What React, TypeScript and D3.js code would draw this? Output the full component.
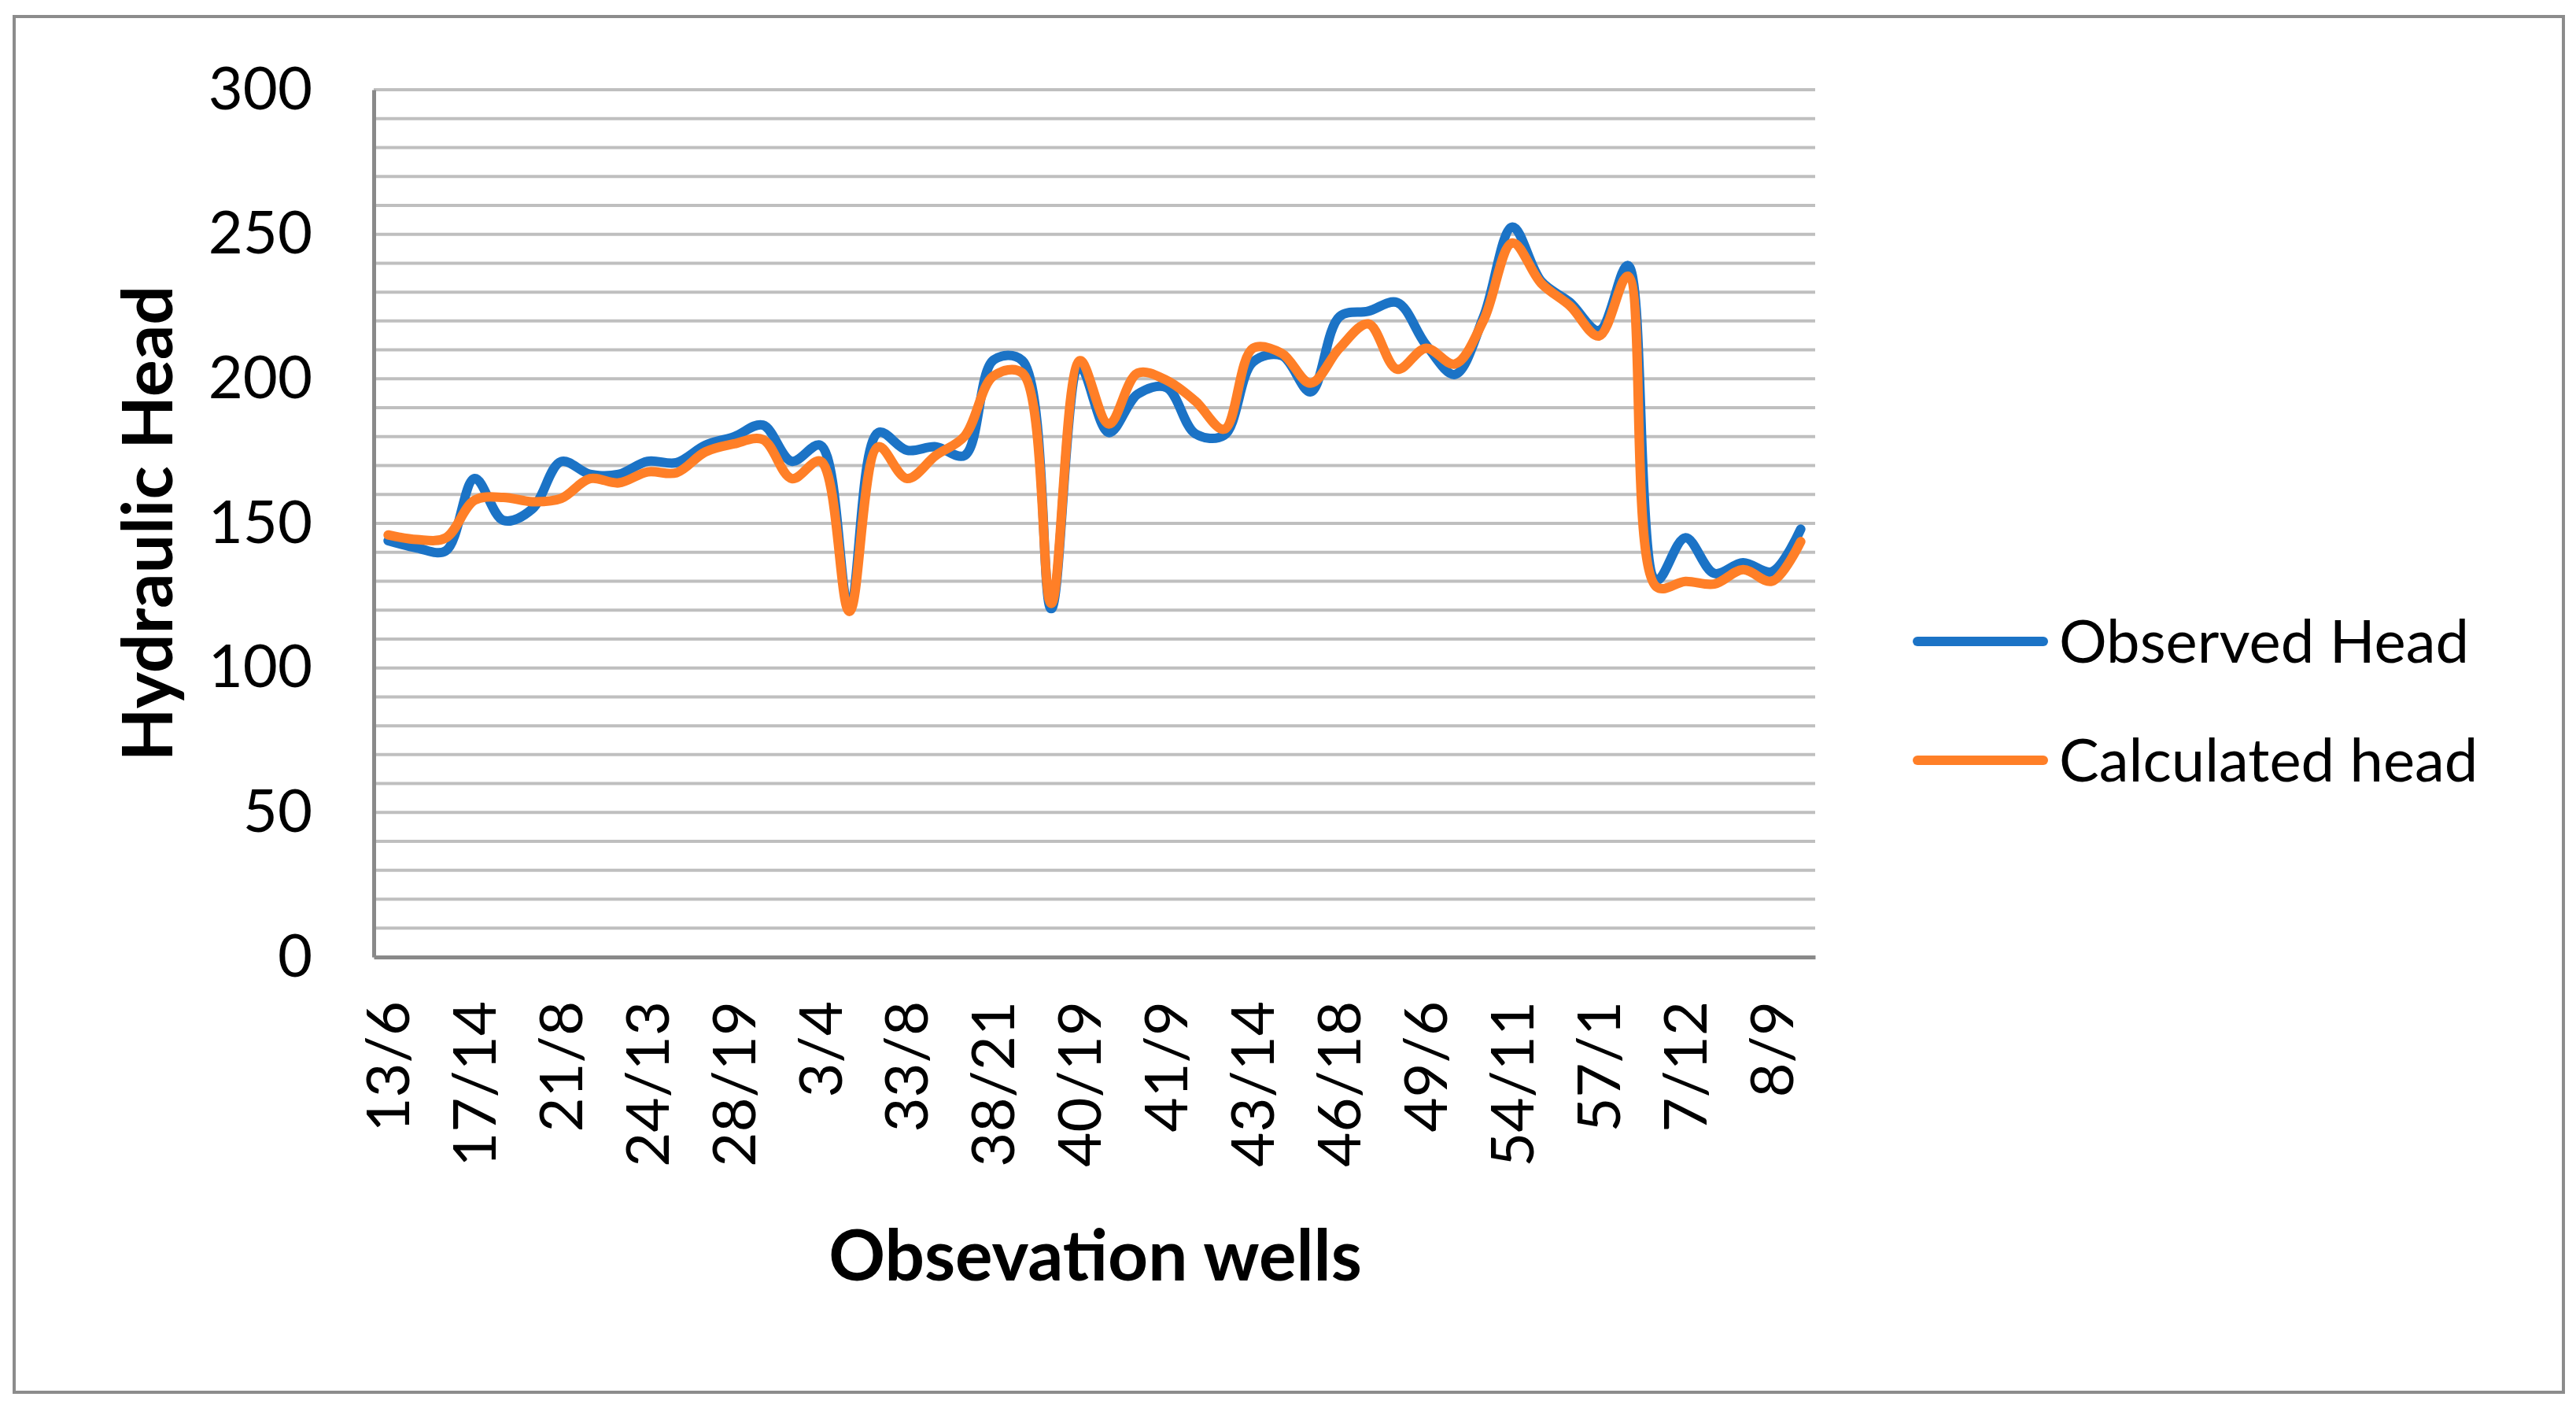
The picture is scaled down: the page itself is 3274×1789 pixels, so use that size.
import { useRef, useEffect } from 'react';
import * as d3 from 'd3';

// Labels Excel shows on the category axis (every 3rd well)
const WELL_LABELS = [
  '13/6', '17/14', '21/8', '24/13', '28/19', '3/4', '33/8', '38/21', '40/19',
  '41/9', '43/14', '46/18', '49/6', '54/11', '57/1', '7/12', '8/9',
];
const LABEL_EVERY = 3;

const OBSERVED_HEAD = [
  144, 141.5, 140.5, 165.5, 151, 155, 171.4, 167, 167, 171.5,
  171, 177, 180, 184, 171.5, 177, 120.5, 181.4, 175.3, 176.5,
  173.5, 206.5, 206.3, 120.5, 204, 181.4, 194.7, 197, 181, 180.5,
  205.8, 208, 195.5, 221.5, 223.4, 226.4, 211.8, 201.5, 221.5, 252.5,
  233.7, 226.4, 216.7, 239.2, 130.4, 145, 132.7, 136.4, 133.3, 148,
];
const CALCULATED_HEAD = [
  146, 144.4, 145, 158, 159, 157.5, 158.6, 165.5, 164, 167.8,
  167.5, 174.7, 177.5, 179, 165.5, 171.5, 119.5, 176.5, 165.5, 173.5,
  180.2, 201, 202, 122.3, 206.3, 184.4, 202, 199.5, 192.3, 182.6,
  210.6, 208.8, 198.5, 210.6, 219, 203.3, 210.6, 205.1, 220.3, 247,
  233, 225.2, 214.8, 235.5, 128, 129.9, 129, 134, 130, 143.7,
];
const SERIES_NAMES = ['Observed Head', 'Calculated head'];
const Y_TICKS = [0, 50, 100, 150, 200, 250, 300];

const COLORS = ['#1b73c6', '#ff7f27'];
const FONT = "Lato, 'Open Sans', sans-serif";
const W = 3274;
const H = 1789;
const PLOT = { left: 475, right: 2307, top: 114, bottom: 1216 };

export default function App() {
  const svgRef = useRef<SVGSVGElement>(null);

  useEffect(() => {
    if (!svgRef.current) return;
    const svg = d3.select(svgRef.current);
    svg.selectAll('*').remove();

    svg.append('rect').attr('width', W).attr('height', H).attr('fill', '#fff');

    // chart border
    svg.append('rect')
      .attr('x', 18)
      .attr('y', 21)
      .attr('width', 3240)
      .attr('height', 1748)
      .attr('fill', 'none')
      .attr('stroke', '#8c8c8c')
      .attr('stroke-width', 4);

    const n = OBSERVED_HEAD.length;
    const x = d3.scaleBand<number>()
      .domain(d3.range(n))
      .range([PLOT.left, PLOT.right]);
    const y = d3.scaleLinear()
      .domain([0, 300])
      .range([PLOT.bottom, PLOT.top]);
    const cx = (i: number) => (x(i) ?? 0) + x.bandwidth() / 2;

    // minor gridlines every 10
    svg.append('g')
      .selectAll('line')
      .data(d3.range(10, 301, 10))
      .join('line')
      .attr('x1', PLOT.left)
      .attr('x2', PLOT.right)
      .attr('y1', d => y(d))
      .attr('y2', d => y(d))
      .attr('stroke', '#bfbfbf')
      .attr('stroke-width', 4);

    // y axis
    const yAxis = svg.append('g')
      .attr('transform', `translate(${PLOT.left},0)`)
      .call(d3.axisLeft(y).tickValues(Y_TICKS).tickSize(0).tickSizeOuter(0).tickPadding(78));
    yAxis.select('.domain').attr('stroke', '#898989').attr('stroke-width', 5);
    yAxis.selectAll('text')
      .attr('font-family', FONT)
      .attr('font-size', 76)
      .attr('fill', '#000');

    // x axis
    const xAxis = svg.append('g')
      .attr('transform', `translate(0,${PLOT.bottom})`)
      .call(
        d3.axisBottom(x)
          .tickValues(d3.range(0, n, LABEL_EVERY))
          .tickFormat(i => WELL_LABELS[(i as number) / LABEL_EVERY] ?? '')
          .tickSize(0)
          .tickSizeOuter(0)
      );
    xAxis.select('.domain').attr('stroke', '#898989').attr('stroke-width', 5);
    xAxis.selectAll('text')
      .attr('transform', 'rotate(-90)')
      .attr('text-anchor', 'end')
      .attr('x', -56)
      .attr('y', 0)
      .attr('dy', '0.35em')
      .attr('font-family', FONT)
      .attr('font-size', 76)
      .attr('fill', '#000');

    // smoothed lines (centripetal spline keeps the steep drops from overshooting)
    const line = d3.line<number>()
      .x((_, i) => cx(i))
      .y(d => y(d))
      .curve(d3.curveCatmullRom.alpha(0.5));

    [OBSERVED_HEAD, CALCULATED_HEAD].forEach((values, k) => {
      svg.append('path')
        .datum(values)
        .attr('d', line)
        .attr('fill', 'none')
        .attr('stroke', COLORS[k])
        .attr('stroke-width', 12)
        .attr('stroke-linejoin', 'round')
        .attr('stroke-linecap', 'round');
    });

    // legend
    const legendY = [815, 966];
    SERIES_NAMES.forEach((name, k) => {
      svg.append('line')
        .attr('x1', 2437)
        .attr('x2', 2597)
        .attr('y1', legendY[k])
        .attr('y2', legendY[k])
        .attr('stroke', COLORS[k])
        .attr('stroke-width', 12)
        .attr('stroke-linecap', 'round');
      svg.append('text')
        .attr('x', 2617)
        .attr('y', legendY[k])
        .attr('dy', '0.35em')
        .attr('font-family', FONT)
        .attr('font-size', 76)
        .attr('fill', '#000')
        .text(name);
    });

    // axis titles
    svg.append('text')
      .attr('x', 1392)
      .attr('y', 1627)
      .attr('text-anchor', 'middle')
      .attr('font-family', FONT)
      .attr('font-weight', 'bold')
      .attr('font-size', 89)
      .attr('fill', '#000')
      .text('Obsevation wells');

    svg.append('text')
      .attr('transform', 'translate(219,665) rotate(-90)')
      .attr('text-anchor', 'middle')
      .attr('font-family', FONT)
      .attr('font-weight', 'bold')
      .attr('font-size', 88)
      .attr('fill', '#000')
      .text('Hydraulic Head');
  }, []);

  return (
    <svg
      ref={svgRef}
      width={W}
      height={H}
      style={{ position: 'absolute', left: 0, top: 0, display: 'block' }}
    />
  );
}
